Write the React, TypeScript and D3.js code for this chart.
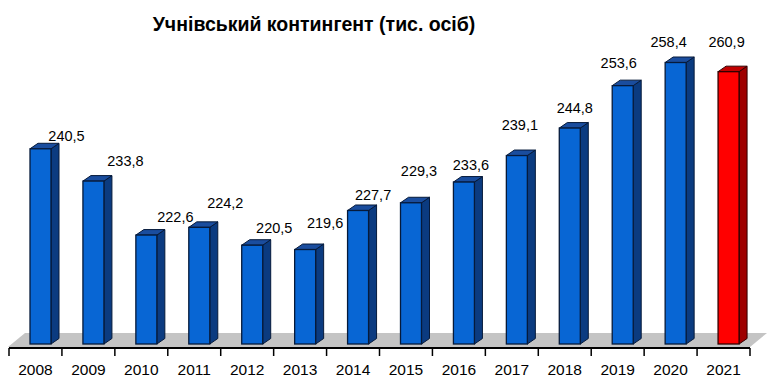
import React from "react";
import { scaleBand, scaleLinear } from "d3";

const years = ["2008", "2009", "2010", "2011", "2012", "2013", "2014", "2015", "2016", "2017", "2018", "2019", "2020", "2021"];
// values printed on the labels
const values = [240.5, 233.8, 222.6, 224.2, 220.5, 219.6, 227.7, 229.3, 233.6, 239.1, 244.8, 253.6, 258.4, 260.9];
// heights the bars are drawn at in the source (2021 column is drawn lower than its label)
const barValues = [240.5, 233.8, 222.6, 224.2, 220.5, 219.6, 227.7, 229.3, 233.6, 239.1, 244.8, 253.6, 258.4, 256.5];
const highlighted = ["2021"];
const title = "Учнівський контингент (тис. осіб)";

// manually dragged label positions in the source: [dx, rise above bar top]
const labelNudge: [number, number][] = [
  [26, 8], [32, 15], [29, 13], [26, 19], [22, 12], [20, 22], [15, 10],
  [8, 27], [7, 12], [3, 26], [5, 15], [-4, 18], [-7, 16], [-2, 25],
];

const W = 780;
const H = 392;
const FONT = "Arial, 'Liberation Sans', sans-serif";

const App: React.FC = () => {
  const x = scaleBand<string>().domain(years).range([9, 750]).padding(0);
  const y = scaleLinear().domain([200, 270]).range([344, 6.6]);

  const barW = 21;
  const dx = 8;
  const dy = 5.5;
  const base = y(200);

  const floor = `M8,347 L750,347 L767,333 L25,333 Z`;

  return (
    <svg width={W} height={H} style={{ position: "absolute", left: 0, top: 0, background: "#fff" }}>
      <text x={314} y={31} textAnchor="middle" fontFamily={FONT} fontWeight="bold" fontSize={19.5} fill="#000">
        {title}
      </text>

      <path d={floor} fill="#c4c4c4" />

      {years.map((yr, i) => {
        const x0 = (x(yr) as number) + 21;
        const x1 = x0 + barW;
        const top = y(barValues[i]);
        const red = highlighted.includes(yr);
        const front = red ? "#ff0000" : "#0866d4";
        const side = red ? "#9e0000" : "#0b3b80";
        const cap = red ? "#c00000" : "#1a4d9e";
        const stroke = red ? "#300000" : "#061a3a";
        return (
          <g key={yr}>
            <path
              d={`M${x1},${top} L${x1 + dx},${top - dy} L${x1 + dx},${base - dy} L${x1},${base} Z`}
              fill={side}
              stroke={stroke}
              strokeWidth={1}
              strokeLinejoin="round"
            />
            <path
              d={`M${x0},${top} L${x0 + dx},${top - dy} L${x1 + dx},${top - dy} L${x1},${top} Z`}
              fill={cap}
              stroke={stroke}
              strokeWidth={1}
              strokeLinejoin="round"
            />
            <rect x={x0} y={top} width={barW} height={base - top} fill={front} stroke={stroke} strokeWidth={1.3} />
          </g>
        );
      })}

      {years.map((yr, i) => {
        const cx = (x(yr) as number) + 21 + barW / 2 + labelNudge[i][0];
        const ty = y(barValues[i]) - labelNudge[i][1];
        return (
          <text key={yr} x={cx} y={ty} textAnchor="middle" fontFamily={FONT} fontSize={14.5} fill="#000">
            {values[i].toFixed(1).replace(".", ",")}
          </text>
        );
      })}

      <line x1={9} x2={750} y1={348} y2={348} stroke="#000" strokeWidth={2} />
      {[...years.map((yr) => x(yr) as number), 750].map((t, i) => (
        <line key={i} x1={t} x2={t} y1={348} y2={356} stroke="#000" strokeWidth={1.5} />
      ))}
      {years.map((yr) => (
        <text
          key={yr}
          x={(x(yr) as number) + x.bandwidth() / 2}
          y={375}
          textAnchor="middle"
          fontFamily={FONT}
          fontSize={15.5}
          fill="#000"
        >
          {yr}
        </text>
      ))}
    </svg>
  );
};

export default App;
